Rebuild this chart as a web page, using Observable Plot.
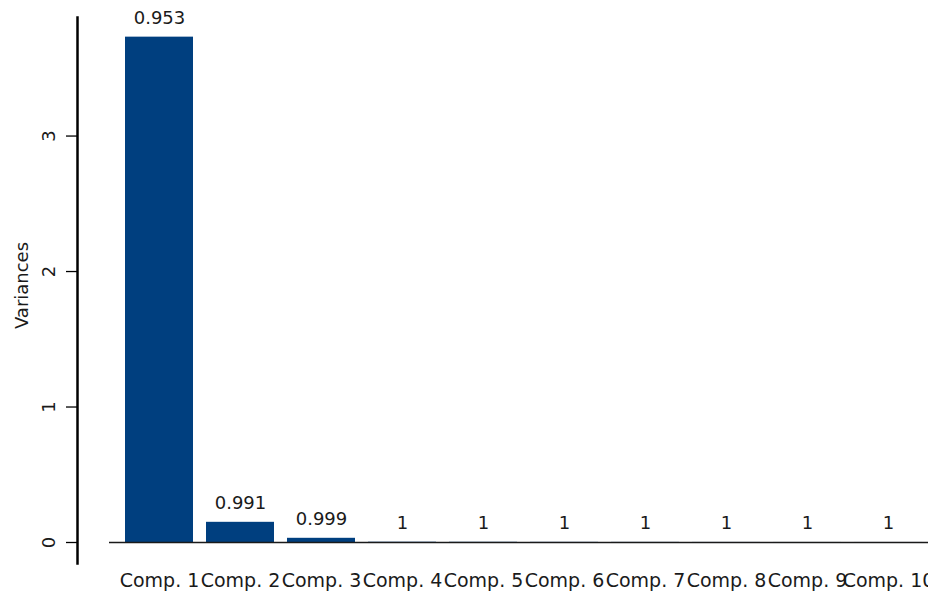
<!DOCTYPE html>
<html>
<head>
<meta charset="utf-8">
<script src="https://cdn.jsdelivr.net/npm/d3@7"></script>
<script src="https://cdn.jsdelivr.net/npm/@observablehq/plot@0.6"></script>
<style>
  html, body { margin: 0; padding: 0; background: #fff; }
  #chart svg { display: block; }
</style>
</head>
<body>
<div id="chart"></div>
<script>
const components = ["Comp. 1","Comp. 2","Comp. 3","Comp. 4","Comp. 5","Comp. 6","Comp. 7","Comp. 8","Comp. 9","Comp. 10"];
const variances = [3.73, 0.149, 0.031, 0.002, 0.0015, 0.001, 0.0008, 0.0005, 0.0003, 0.0002];
const cumulative = ["0.953","0.991","0.999","1","1","1","1","1","1","1"];
const yTicks = [0, 1, 2, 3];
const yTitle = ["Variances"];

const data = components.map((c, i) => ({comp: c, v: variances[i], lab: cumulative[i]}));

const barColor = "#003f7f";
const font = "DejaVu Sans, sans-serif";

const chart = Plot.plot({
  width: 928,
  height: 592,
  marginLeft: 77,
  marginRight: 0,
  marginTop: 17,
  marginBottom: 29,
  style: {fontFamily: font, fontSize: "18px", color: "#1a1a1a", background: "#fff"},
  x: {domain: components, range: [108.4, 938], paddingInner: 1/6, paddingOuter: 1/6, label: null},
  y: {domain: [-0.155, 3.875], label: null},
  marks: [
    Plot.barY(data, {x: "comp", y: "v", fill: barColor}),
    Plot.ruleY([0], {stroke: "#1a1a1a", strokeWidth: 1.3, insetLeft: 32}),
    Plot.frame({anchor: "left", stroke: "#000", strokeWidth: 2.5}),
    Plot.axisY({ticks: yTicks, tickSize: 11, tickPadding: 12, tickRotate: -90, tickFormat: d3.format("d"),
      fontSize: 18, label: null, stroke: "#000", strokeWidth: 1.3}),
    Plot.text(yTitle, {text: d => d, frameAnchor: "left", textAnchor: "middle", rotate: -90, dx: -55, dy: -5, fontSize: 18, fill: "#1a1a1a"}),
    Plot.axisX({tickSize: 0, tickPadding: 10, fontSize: 19, label: null}),
    Plot.text(data, {x: "comp", y: "v", text: "lab", lineAnchor: "bottom", dy: -13, fontSize: 18, fill: "#1a1a1a"})
  ]
});

document.getElementById("chart").appendChild(chart);
</script>
</body>
</html>
